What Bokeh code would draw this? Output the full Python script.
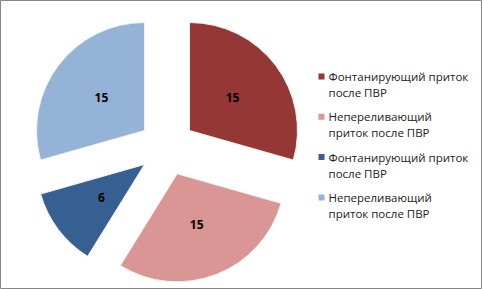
import math
from bokeh.plotting import figure
from bokeh.models import Range1d, ColumnDataSource
from bokeh.core.properties import value
from bokeh.embed import file_html
from bokeh.resources import INLINE

# ---- data ----
labels = ["Фонтанирующий приток после ПВР", "Непереливающий приток после ПВР",
          "Фонтанирующий приток после ПВР", "Непереливающий приток после ПВР"]
legend_lines = [["Фонтанирующий приток", "после ПВР"],
                ["Непереливающий", "приток после ПВР"],
                ["Фонтанирующий приток", "после ПВР"],
                ["Непереливающий", "приток после ПВР"]]
values = [15, 15, 6, 15]
colors = ["#953735", "#D99694", "#376092", "#95B3D7"]

W, H = 482, 289
p = figure(width=W, height=H, output_backend="svg", toolbar_location=None,
           x_range=Range1d(0, W), y_range=Range1d(0, H), min_border=0)
p.xaxis.visible = False
p.yaxis.visible = False
p.xgrid.visible = False
p.ygrid.visible = False
p.outline_line_color = "#868686"
p.outline_line_width = 1
p.background_fill_color = "white"
p.border_fill_color = "white"

cx, cy = 166.5, H - 147
r = 108
explode = 28.2
total = sum(values)

xs, ys, sa, ea, lx, ly = [], [], [], [], [], []
cum = 0
for v in values:
    t0 = cum / total * 2 * math.pi
    cum += v
    t1 = cum / total * 2 * math.pi
    tm = (t0 + t1) / 2
    ox = cx + explode * math.sin(tm)
    oy = cy + explode * math.cos(tm)
    xs.append(ox); ys.append(oy)
    sa.append(math.pi / 2 - t1); ea.append(math.pi / 2 - t0)
    lx.append(ox + 0.5 * r * math.sin(tm)); ly.append(oy + 0.5 * r * math.cos(tm))

src = ColumnDataSource(dict(x=xs, y=ys, sa=sa, ea=ea, color=colors,
                            lx=lx, ly=ly, txt=[str(v) for v in values]))
p.wedge(x="x", y="y", radius=r, start_angle="sa", end_angle="ea",
        fill_color="color", line_color="#f2f2f2", line_width=1, source=src)
p.text(x="lx", y="ly", text="txt", source=src, text_align="center",
       text_baseline="middle", text_font=value("Open Sans"),
       text_font_size="12px", text_font_style="bold", text_color="black")

# legend
lg_x, lg_y0, lg_step, line_h = 321, 76, 40.3, 16
sq_x, sq_y, tx, ty, tt = [], [], [], [], []
for i, lines in enumerate(legend_lines):
    yy = lg_y0 + i * lg_step
    sq_x.append(lg_x); sq_y.append(H - yy)
    for j, ln in enumerate(lines):
        tx.append(lg_x + 7); ty.append(H - (yy + j * line_h)); tt.append(ln)
p.rect(x=sq_x, y=sq_y, width=6, height=6, fill_color=colors, line_color=None)
p.text(x=tx, y=ty, text=tt, text_align="left", text_baseline="middle",
       text_font=value("Open Sans"), text_font_size="11.5px", text_color="#222222")

open("out.html", "w").write(file_html(p, INLINE))
